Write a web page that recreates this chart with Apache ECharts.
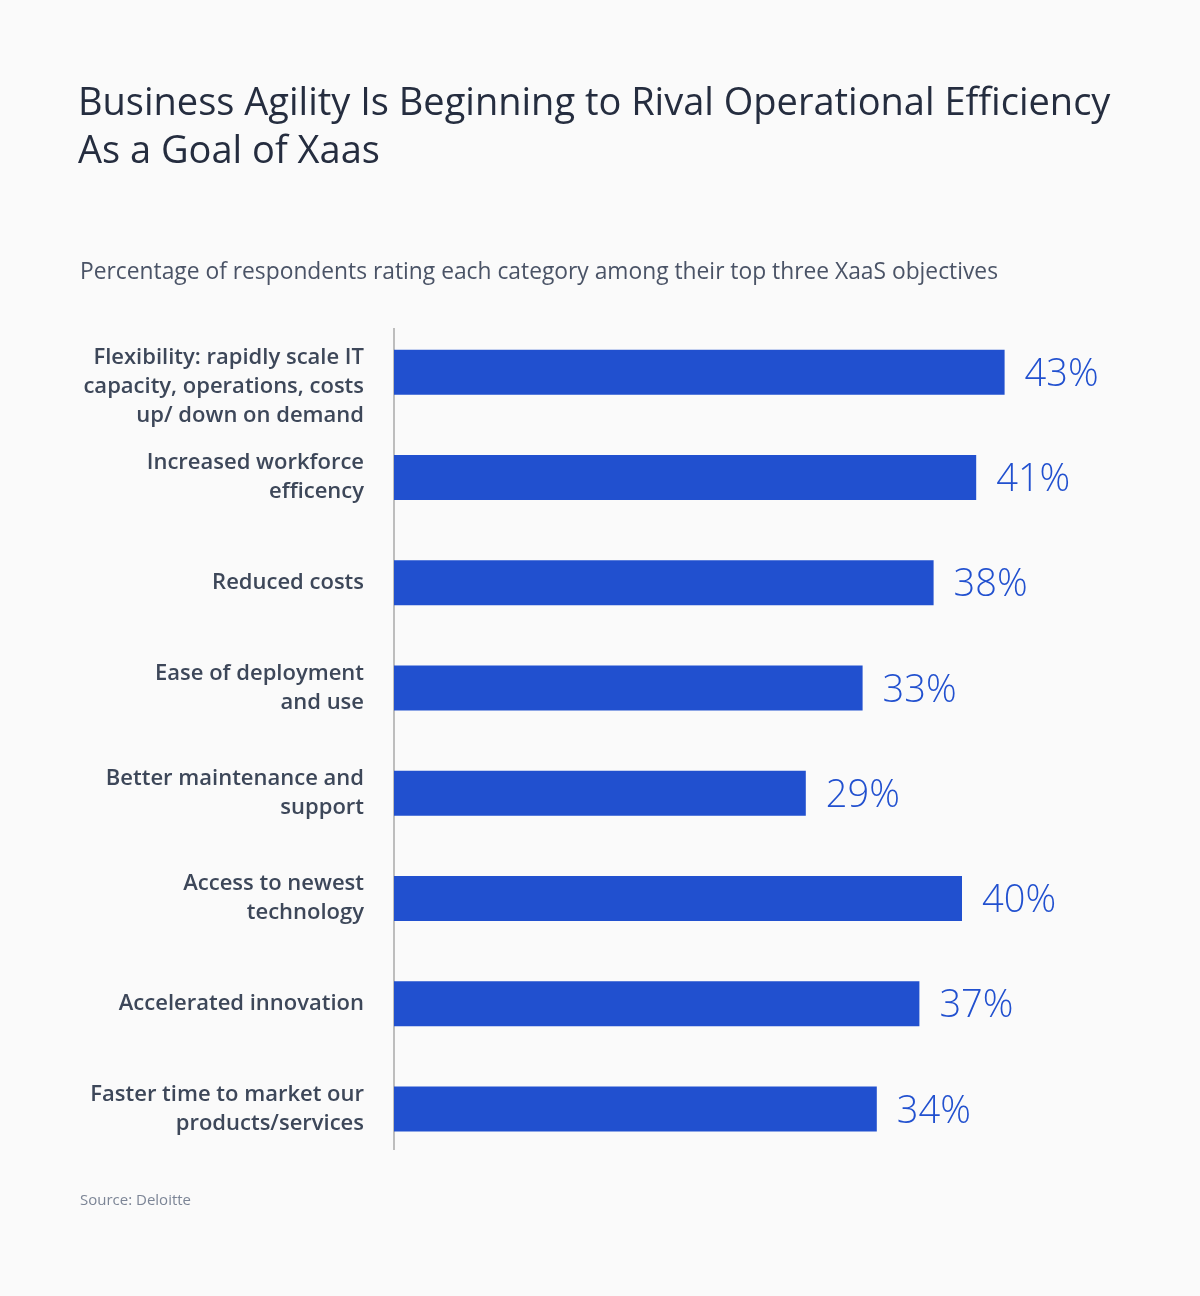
<!DOCTYPE html>
<html><head><meta charset="utf-8">
<script src="https://cdn.jsdelivr.net/npm/echarts@6/dist/echarts.min.js"></script>
<style>html,body{margin:0;padding:0;background:#fafafa}#c{width:1200px;height:1296px}</style>
</head><body><div id="c"></div>
<script>
const categories = [
  "Flexibility: rapidly scale IT\ncapacity, operations, costs\nup/ down on demand",
  "Increased workforce\nefficency",
  "Reduced costs",
  "Ease of deployment\nand use",
  "Better maintenance and\nsupport",
  "Access to newest\ntechnology",
  "Accelerated innovation",
  "Faster time to market our\nproducts/services"
];
const values = [43, 41, 38, 33, 29, 40, 37, 34];
const titleText = "Business Agility Is Beginning to Rival Operational Efficiency\nAs a Goal of Xaas";
const subtitleText = "Percentage of respondents rating each category among their top three XaaS objectives";
const sourceText = "Source: Deloitte";

const FONT = "Open Sans";
const chart = echarts.init(document.getElementById('c'));
chart.setOption({
  backgroundColor: '#fafafa',
  animation: false,
  title: [
    { text: titleText, left: 78, top: 80, padding: 0,
      textStyle: { fontFamily: FONT, fontSize: 38, fontWeight: 'normal', color: '#252d3f', lineHeight: 48 } },
    { text: subtitleText, left: 80, top: 260, padding: 0,
      textStyle: { fontFamily: FONT, fontSize: 22.8, fontWeight: 'normal', color: '#4a5366', lineHeight: 26 } },
    { text: sourceText, left: 80, top: 1192, padding: 0,
      textStyle: { fontFamily: FONT, fontSize: 15, fontWeight: 'normal', color: '#7c8596', lineHeight: 18 } }
  ],
  grid: { left: 394, top: 319.5, width: 710, height: 842, containLabel: false },
  xAxis: { type: 'value', min: 0, max: 50, show: false },
  yAxis: {
    type: 'category', inverse: true,
    data: categories,
    axisLine: { show: false }, axisTick: { show: false }, splitLine: { show: false },
    axisLabel: { margin: 30, fontFamily: FONT, fontSize: 22, fontWeight: 600, color: '#3d4759', lineHeight: 29, align: 'right',
      formatter: (v, i) => i === 0 ? '\n' + v : v }
  },
  graphic: [
    { type: 'line', shape: { x1: 394, y1: 328, x2: 394, y2: 1150 }, style: { stroke: '#bdbdbd', lineWidth: 2 } }
  ],
  series: [{
    type: 'bar', data: values, barWidth: 45,
    itemStyle: { color: '#2150cf' },
    label: { show: true, position: 'right', distance: 20, formatter: '{c}%', offset: [0, 3],
      fontFamily: FONT, fontSize: 38, fontWeight: 300, color: '#2150cf' }
  }]
});
</script></body></html>
